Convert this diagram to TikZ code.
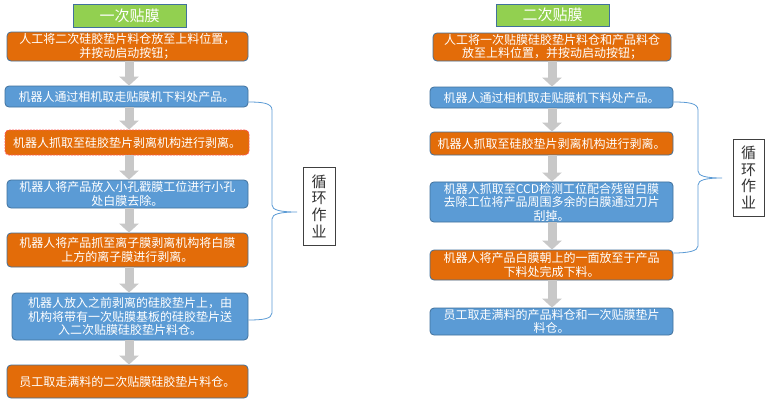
\documentclass[tikz,border=0pt]{standalone}
\usepackage{fontspec}
\setmainfont{Noto Sans CJK SC}
\usetikzlibrary{arrows.meta,calc}
\definecolor{oran}{HTML}{E36C09}
\definecolor{blu}{HTML}{5B9BD5}
\definecolor{bord}{HTML}{41719C}
\definecolor{grn}{HTML}{92D050}
\definecolor{arr}{HTML}{C8C8C8}
\definecolor{brc}{HTML}{5B9BD5}
\begin{document}
\begin{tikzpicture}[x=1pt,y=-1pt,
 box/.style={draw=bord, line width=0.8pt, rounded corners=4pt, text=white, font=\fontsize{12}{13.5}\selectfont, align=center, inner sep=1pt},
 obox/.style={box, fill=oran},
 bbox/.style={box, fill=blu},
 tbox/.style={draw=bord, line width=0.8pt, fill=grn, text=white, font=\fontsize{15}{17}\selectfont, inner sep=0pt},
 flow/.style={draw=arr, line width=9pt, -{Triangle[width=19pt,length=9pt]}},
 brace/.style={draw=brc, line width=0.8pt},
 lbl/.style={draw=black!75, line width=0.6pt, align=center, font=\fontsize{15}{16.7}\selectfont, text=black!80, inner sep=0pt}]
\useasboundingbox[fill=white] (0,0) rectangle (769,402);
\coordinate (colL) at (129,0);
\coordinate (colR) at (552,0);
% left column
\node[tbox, minimum width=113pt, minimum height=23pt] (LT) at (129.5,15.5) {一次贴膜};
\node[obox, minimum width=241pt, minimum height=29pt] (L1) at (127.5,46.5) {人工将二次硅胶垫片料仓放至上料位置，\\并按动启动按钮；};
\node[bbox, minimum width=243pt, minimum height=21pt] (L2) at (126.5,96.5) {机器人通过相机取走贴膜机下料处产品。};
\node[obox, draw=red!65, dash pattern=on 2pt off 1pt, minimum width=244pt, minimum height=25pt] (L3) at (127,142.5) {机器人抓取至硅胶垫片剥离机构进行剥离。};
\node[bbox, minimum width=241pt, minimum height=28pt] (L4) at (127.5,194) {机器人将产品放入小孔戳膜工位进行小孔\\处白膜去除。};
\node[obox, minimum width=241pt, minimum height=34pt] (L5) at (127.5,250) {机器人将产品抓至离子膜剥离机构将白膜\\上方的离子膜进行剥离。};
\node[bbox, minimum width=236pt, minimum height=47pt] (L6) at (130,316.5) {机器人放入之前剥离的硅胶垫片上，由\\机构将带有一次贴膜基板的硅胶垫片送\\入二次贴膜硅胶垫片料仓。};
\node[obox, minimum width=241pt, minimum height=33pt] (L7) at (127.5,381.5) {员工取走满料的二次贴膜硅胶垫片料仓。};
\foreach \a/\b in {L1/L2,L2/L3,L3/L4,L4/L5,L5/L6,L6/L7}
  \draw[flow] (\a.south -| colL) -- (\b.north -| colL);
\node[lbl, minimum width=32pt, minimum height=78pt] (LC) at (319,206) {循\\环\\作\\业};
\draw[brace] ([yshift=-5.5pt]L2.east) .. controls (262,102) and (272,103) .. (272,110) -- (272,205)
  .. controls (272,210) and (280,212) .. (297,212)
  .. controls (280,212) and (272,214) .. (272,219) -- (272,313)
  .. controls (272,319) and (262,320) .. ([yshift=-3.5pt]L6.east);
% right column
\node[tbox, minimum width=113pt, minimum height=22pt] (RT) at (552.5,15) {二次贴膜};
\node[obox, minimum width=238pt, minimum height=28pt] (R1) at (552,47) {人工将一次贴膜硅胶垫片料仓和产品料仓\\放至上料位置，并按动启动按钮；};
\node[bbox, minimum width=243pt, minimum height=21pt] (R2) at (551.5,97.5) {机器人通过相机取走贴膜机下料处产品。};
\node[obox, minimum width=243pt, minimum height=23pt] (R3) at (551.5,143.5) {机器人抓取至硅胶垫片剥离机构进行剥离。};
\node[bbox, minimum width=243pt, minimum height=40pt] (R4) at (551.5,202) {机器人抓取至CCD检测工位配合残留白膜\\去除工位将产品周围多余的白膜通过刀片\\刮掉。};
\node[obox, minimum width=243pt, minimum height=30pt] (R5) at (551.5,265) {机器人将产品白膜朝上的一面放至于产品\\下料处完成下料。};
\node[bbox, minimum width=243pt, minimum height=27pt] (R6) at (551.5,321.5) {员工取走满料的产品料仓和一次贴膜垫片\\料仓。};
\foreach \a/\b in {R1/R2,R2/R3,R3/R4,R4/R5,R5/R6}
  \draw[flow] (\a.south -| colR) -- (\b.north -| colR);
\node[lbl, minimum width=31pt, minimum height=77pt] (RC) at (748.5,177.5) {循\\环\\作\\业};
\draw[brace] ([yshift=-4.5pt]R2.east) .. controls (688,102) and (698,103) .. (698,110) -- (698,171)
  .. controls (698,176) and (706,178) .. (722,178)
  .. controls (706,178) and (698,180) .. (698,185) -- (698,246)
  .. controls (698,251) and (688,253) .. ([yshift=12pt]R5.east);
\end{tikzpicture}
\end{document}
